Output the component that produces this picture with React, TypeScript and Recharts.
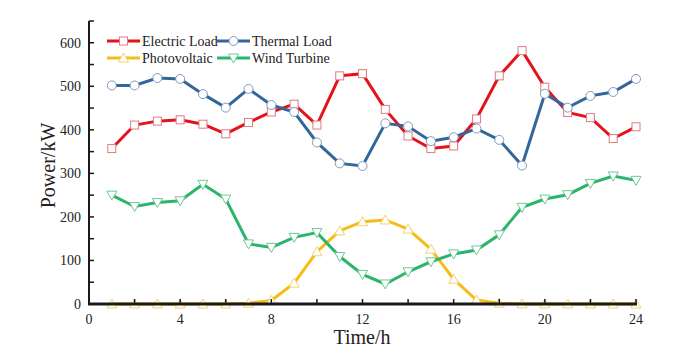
import { LineChart, Line, XAxis, YAxis } from "recharts";

const hours = [1, 2, 3, 4, 5, 6, 7, 8, 9, 10, 11, 12, 13, 14, 15, 16, 17, 18, 19, 20, 21, 22, 23, 24];
const electricLoad = [357, 411, 420, 423, 413, 391, 417, 441, 459, 411, 524, 529, 447, 386, 357, 363, 425, 524, 582, 498, 440, 428, 380, 407];
const thermalLoad = [502, 502, 519, 517, 482, 451, 494, 457, 441, 371, 323, 317, 415, 408, 374, 383, 403, 377, 318, 483, 451, 478, 487, 517];
const photovoltaic = [0, 0, 0, 0, 0, 0, 2, 8, 48, 120, 168, 189, 193, 172, 126, 57, 9, 2, 0, 0, 0, 0, 0, 0];
const windTurbine = [250, 224, 233, 237, 275, 241, 138, 130, 153, 164, 109, 68, 46, 74, 97, 115, 124, 159, 222, 241, 251, 277, 294, 284];

const xTicks = [0, 2, 4, 6, 8, 10, 12, 14, 16, 18, 20, 22, 24];
const yTicks = [0, 50, 100, 150, 200, 250, 300, 350, 400, 450, 500, 550, 600, 650];

const data = hours.map((h, i) => ({
  hour: h,
  electric: electricLoad[i],
  thermal: thermalLoad[i],
  pv: photovoltaic[i],
  wind: windTurbine[i],
}));

const FONT = "Liberation Serif, Times New Roman, serif";
const PLOT_LEFT = 89;
const PLOT_RIGHT = 636;
const PLOT_BOTTOM = 304;
const AXIS = "#1a1a1a";

const SERIES = [
  { key: "electric", name: "Electric Load", color: "#e3121b", marker: "#e07a80", shape: "square" },
  { key: "thermal", name: "Thermal Load", color: "#33679c", marker: "#7f9cc0", shape: "circle" },
  { key: "pv", name: "Photovoltaic", color: "#f6bd16", marker: "#f3d36a", shape: "up" },
  { key: "wind", name: "Wind Turbine", color: "#2bb56a", marker: "#6cc996", shape: "down" },
];

const Marker = ({ cx, cy, shape, stroke }: { cx: number; cy: number; shape: string; stroke: string }) => {
  if (cx == null || cy == null) return null;
  const p = { fill: "#fff", stroke, strokeWidth: 1 };
  if (shape === "square") return <rect x={cx - 4} y={cy - 4} width={8} height={8} {...p} />;
  if (shape === "circle") return <circle cx={cx} cy={cy} r={4.5} {...p} />;
  if (shape === "up") return <polygon points={`${cx},${cy - 5} ${cx - 5},${cy + 4} ${cx + 5},${cy + 4}`} {...p} />;
  return <polygon points={`${cx},${cy + 5} ${cx - 5},${cy - 4} ${cx + 5},${cy - 4}`} {...p} />;
};

const YTick = (props: any) => {
  const { y, payload } = props;
  const v = payload.value;
  return (
    <g>
      <line x1={PLOT_LEFT} x2={PLOT_LEFT + 5} y1={y} y2={y} stroke={AXIS} strokeWidth={1.5} />
      {v % 100 === 0 && (
        <text x={PLOT_LEFT - 8} y={y} dy="0.35em" textAnchor="end" style={{ fontFamily: FONT, fontSize: 14 }} fill="#222">
          {v}
        </text>
      )}
    </g>
  );
};

const XTick = (props: any) => {
  const { x, payload } = props;
  const v = payload.value;
  return (
    <g>
      <line x1={x} x2={x} y1={PLOT_BOTTOM} y2={PLOT_BOTTOM - 5} stroke={AXIS} strokeWidth={1.5} />
      {v % 4 === 0 && (
        <text x={x} y={PLOT_BOTTOM + 20} textAnchor="middle" style={{ fontFamily: FONT, fontSize: 14 }} fill="#222">
          {v}
        </text>
      )}
    </g>
  );
};

const legendPos = [
  { x: 107, y: 41 },
  { x: 217, y: 41 },
  { x: 107, y: 58 },
  { x: 217, y: 58 },
];

export default function App() {
  return (
    <div style={{ position: "absolute", left: 0, top: 0, width: 678, height: 361, background: "#fff" }}>
      <LineChart width={678} height={361} data={data} margin={{ top: 21, right: 42, left: 0, bottom: 0 }}>
        <XAxis
          dataKey="hour"
          type="number"
          domain={[0, 24]}
          ticks={xTicks}
          interval={0}
          height={57}
          tickLine={false}
          tick={<XTick />}
          axisLine={false}
        />
        <YAxis
          type="number"
          domain={[0, 650]}
          ticks={yTicks}
          interval={0}
          width={89}
          tickLine={false}
          tick={<YTick />}
          axisLine={{ stroke: AXIS, strokeWidth: 2 }}
        />
        {SERIES.map((s) => (
          <Line
            key={s.key}
            dataKey={s.key}
            name={s.name}
            type="linear"
            stroke={s.color}
            strokeWidth={3}
            isAnimationActive={false}
            dot={(p: any) => <Marker key={`${s.key}-${p.index}`} cx={p.cx} cy={p.cy} shape={s.shape} stroke={s.marker} />}
            activeDot={false}
          />
        ))}
      </LineChart>
      <svg width={678} height={361} style={{ position: "absolute", left: 0, top: 0, pointerEvents: "none" }}>
        <line x1={PLOT_LEFT - 1} x2={PLOT_RIGHT + 1} y1={PLOT_BOTTOM} y2={PLOT_BOTTOM} stroke={AXIS} strokeWidth={3} />
        <text x={362} y={344} textAnchor="middle" style={{ fontFamily: FONT, fontSize: 20 }} fill="#222">
          Time/h
        </text>
        <text x={55} y={165.5} transform="rotate(-90, 55, 165.5)" textAnchor="middle" style={{ fontFamily: FONT, fontSize: 20 }} fill="#222">
          Power/kW
        </text>
        {SERIES.map((s, i) => {
          const { x, y } = legendPos[i];
          return (
            <g key={s.key}>
              <line x1={x} x2={x + 33} y1={y} y2={y} stroke={s.color} strokeWidth={3} />
              <Marker cx={x + 16.5} cy={y} shape={s.shape} stroke={s.marker} />
              <text x={x + 35} y={y} dy="0.35em" style={{ fontFamily: FONT, fontSize: 14 }} fill="#222">
                {s.name}
              </text>
            </g>
          );
        })}
      </svg>
    </div>
  );
}
